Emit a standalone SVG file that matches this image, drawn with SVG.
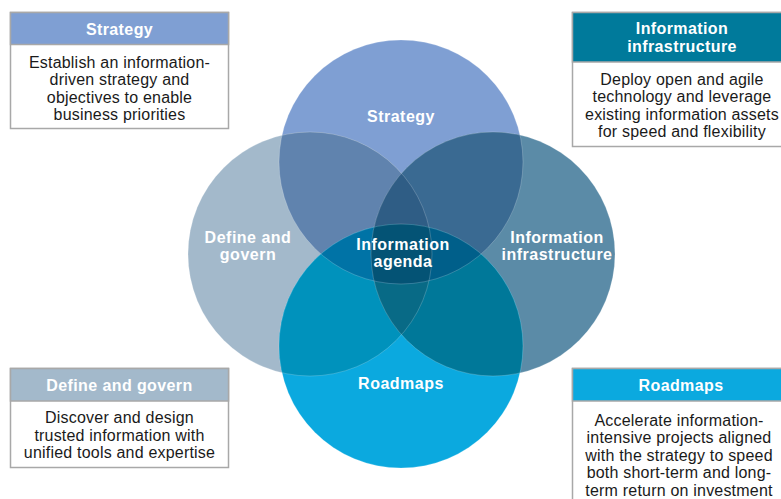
<svg xmlns="http://www.w3.org/2000/svg" width="781" height="499" viewBox="0 0 781 499">
<style>
.box{fill:#ffffff;stroke:#a8a8a8;stroke-width:1.5}
.hdr{font-family:"Liberation Sans",Arial,sans-serif;font-weight:bold;font-size:16px;fill:#ffffff;text-anchor:middle;letter-spacing:0.4px}
.body{font-family:"Liberation Sans",Arial,sans-serif;font-size:16px;fill:#1a1a1a;text-anchor:middle;letter-spacing:0.2px}
.lbl{font-family:"Liberation Sans",Arial,sans-serif;font-weight:bold;font-size:16px;fill:#ffffff;text-anchor:middle;letter-spacing:0.5px}
.edge{fill:none;stroke:#ffffff;stroke-opacity:0.25;stroke-width:0.8}
</style>
<defs>
<circle id="S" cx="401" cy="162" r="122"/>
<circle id="D" cx="310" cy="254" r="122"/>
<circle id="I" cx="493" cy="254" r="122"/>
<circle id="R" cx="401" cy="346" r="122"/>
<clipPath id="cD"><use href="#D"/></clipPath>
<clipPath id="cI"><use href="#I"/></clipPath>
<clipPath id="cR"><use href="#R"/></clipPath>
<clipPath id="cS"><use href="#S"/></clipPath>
<clipPath id="cDI" clip-path="url(#cD)"><use href="#I"/></clipPath>
<clipPath id="cSR" clip-path="url(#cS)"><use href="#R"/></clipPath>
<clipPath id="cSDI" clip-path="url(#cDI)"><use href="#S"/></clipPath>
</defs>

<g id="venn">
<g id="node-strategy"><use href="#S" fill="#7f9fd3"/></g>
<g id="node-define"><use href="#D" fill="#a3b9cb"/></g>
<g id="node-infrastructure"><use href="#I" fill="#5b8ba7"/></g>
<g id="node-roadmaps"><use href="#R" fill="#0ba9df"/></g>
<g id="overlaps">
<use href="#S" fill="#6083ae" clip-path="url(#cD)"/>
<use href="#S" fill="#3a6a92" clip-path="url(#cI)"/>
<use href="#D" fill="#0092bc" clip-path="url(#cR)"/>
<use href="#I" fill="#007899" clip-path="url(#cR)"/>
<use href="#S" fill="#2f5d85" clip-path="url(#cDI)"/>
<use href="#R" fill="#086a86" clip-path="url(#cDI)"/>
<use href="#D" fill="#0073a6" clip-path="url(#cSR)"/>
<use href="#I" fill="#005f8a" clip-path="url(#cSR)"/>
<use href="#R" fill="#045375" clip-path="url(#cSDI)"/>
</g>
<g id="edges">
<use href="#S" class="edge"/>
<use href="#D" class="edge"/>
<use href="#I" class="edge"/>
<use href="#R" class="edge"/>
</g>
</g>

<g id="node-agenda">
<text class="lbl" x="403" y="250">Information</text>
<text class="lbl" x="403" y="267">agenda</text>
</g>
<g id="labels">
<text class="lbl" x="401" y="122">Strategy</text>
<text class="lbl" x="248" y="243">Define and</text>
<text class="lbl" x="248" y="260">govern</text>
<text class="lbl" x="557" y="243">Information</text>
<text class="lbl" x="557" y="260">infrastructure</text>
<text class="lbl" x="401" y="389">Roadmaps</text>
</g>

<g id="box-strategy">
<rect class="box" x="10.5" y="12.5" width="218" height="116"/>
<rect x="10.5" y="12.5" width="218" height="32" fill="#7f9fd3" stroke="#a8a8a8" stroke-width="1.5"/>
<text class="hdr" x="119.5" y="34.5">Strategy</text>
<text class="body" x="119.5" y="67.5">Establish an information-</text>
<text class="body" x="119.5" y="85">driven strategy and</text>
<text class="body" x="119.5" y="102.5">objectives to enable</text>
<text class="body" x="119.5" y="120">business priorities</text>
</g>

<g id="box-infrastructure">
<rect class="box" x="572.5" y="12.5" width="212" height="134"/>
<rect x="572.5" y="12.5" width="212" height="49.5" fill="#007a9b" stroke="#a8a8a8" stroke-width="1.5"/>
<text class="hdr" x="682" y="34">Information</text>
<text class="hdr" x="682" y="52">infrastructure</text>
<text class="body" x="682" y="84.5">Deploy open and agile</text>
<text class="body" x="682" y="102">technology and leverage</text>
<text class="body" x="682" y="119.5">existing information assets</text>
<text class="body" x="682" y="137">for speed and flexibility</text>
</g>

<g id="box-define">
<rect class="box" x="10.5" y="368.5" width="218" height="99"/>
<rect x="10.5" y="368.5" width="218" height="32.5" fill="#a3b9cb" stroke="#a8a8a8" stroke-width="1.5"/>
<text class="hdr" x="119.5" y="390.5">Define and govern</text>
<text class="body" x="119.5" y="423">Discover and design</text>
<text class="body" x="119.5" y="440.5">trusted information with</text>
<text class="body" x="119.5" y="458">unified tools and expertise</text>
</g>

<g id="box-roadmaps">
<rect class="box" x="572.5" y="368.5" width="212" height="140"/>
<rect x="572.5" y="368.5" width="212" height="32.5" fill="#0ba9df" stroke="#a8a8a8" stroke-width="1.5"/>
<text class="hdr" x="681" y="390.5">Roadmaps</text>
<text class="body" x="679" y="425.5">Accelerate information-</text>
<text class="body" x="679" y="443">intensive projects aligned</text>
<text class="body" x="679" y="460.5">with the strategy to speed</text>
<text class="body" x="679" y="478">both short-term and long-</text>
<text class="body" x="679" y="495.5">term return on investment</text>
</g>
</svg>
